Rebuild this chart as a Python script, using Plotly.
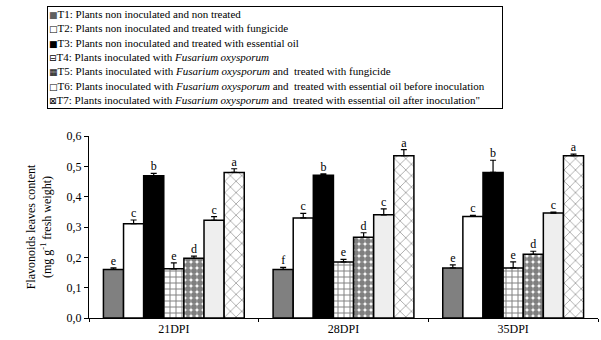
import plotly.graph_objects as go

categories = ["21DPI", "28DPI", "35DPI"]
treatments = ["T1", "T2", "T3", "T4", "T5", "T6", "T7"]
legend_texts = [
    "T1: Plants non inoculated and non treated",
    "T2: Plants non inoculated and treated with fungicide",
    "T3: Plants non inoculated and treated with essential oil",
    "T4: Plants inoculated with <i>Fusarium oxysporum</i>",
    "T5: Plants inoculated with <i>Fusarium oxysporum</i> and  treated with fungicide",
    "T6: Plants inoculated with <i>Fusarium oxysporum</i> and  treated with essential oil before inoculation",
    "T7: Plants inoculated with <i>Fusarium oxysporum</i> and  treated with essential oil after inoculation\"",
]
values = {
    "T1": [0.160, 0.160, 0.165],
    "T2": [0.311, 0.330, 0.335],
    "T3": [0.469, 0.471, 0.480],
    "T4": [0.162, 0.185, 0.165],
    "T5": [0.197, 0.266, 0.210],
    "T6": [0.322, 0.340, 0.346],
    "T7": [0.480, 0.535, 0.535],
}
errors = {
    "T1": [0.005, 0.007, 0.010],
    "T2": [0.012, 0.015, 0.003],
    "T3": [0.008, 0.004, 0.040],
    "T4": [0.020, 0.008, 0.020],
    "T5": [0.007, 0.015, 0.010],
    "T6": [0.012, 0.020, 0.003],
    "T7": [0.012, 0.020, 0.005],
}
letters = {
    "T1": ["e", "f", "e"],
    "T2": ["c", "c", "c"],
    "T3": ["b", "b", "b"],
    "T4": ["e", "e", "e"],
    "T5": ["d", "d", "d"],
    "T6": ["c", "c", "c"],
    "T7": ["a", "a", "a"],
}

styles = {
    "T1": dict(color="#808080", pattern=dict(shape="")),
    "T2": dict(color="#ffffff", pattern=dict(shape="")),
    "T3": dict(color="#000000", pattern=dict(shape="")),
    "T4": dict(color="#ffffff", pattern=dict(shape="+", bgcolor="#ffffff", fgcolor="#000000", size=6, solidity=0.3)),
    "T5": dict(color="#ffffff", pattern=dict(shape=".", bgcolor="#ffffff", fgcolor="#000000", size=6, solidity=0.75)),
    "T6": dict(color="#eeeeee", pattern=dict(shape="")),
    "T7": dict(color="#ffffff", pattern=dict(shape="x", bgcolor="#ffffff", fgcolor="#000000", size=8, solidity=0.15)),
}

SERIF = "Liberation Serif, Times New Roman, serif"

fig = go.Figure()
for t in treatments:
    st = styles[t]
    fig.add_trace(go.Bar(
        x=categories, y=values[t], name=t, offsetgroup=t,
        marker=dict(color=st["color"], pattern=st["pattern"],
                    line=dict(color="#000000", width=1.5)),
        error_y=dict(type="data", array=errors[t], arrayminus=[0] * 3,
                     symmetric=False, color="#000000", thickness=1.2, width=3),
        showlegend=False,
    ))
for t in treatments:
    fig.add_trace(go.Scatter(
        x=categories, y=[v + e for v, e in zip(values[t], errors[t])],
        offsetgroup=t, mode="text", text=letters[t], textposition="top center",
        textfont=dict(family=SERIF, size=12, color="#000000"),
        showlegend=False, hoverinfo="skip",
    ))

symbols = [
    '<span style="color:#606060">■</span>',
    '□', '■', '⊟', '▦', '□', '⊠',
]
legend_html = "<br>".join(
    f'<span style="font-family:DejaVu Sans;font-size:9px">{s}</span>{txt}'
    for s, txt in zip(symbols, legend_texts)
)
fig.add_annotation(
    xref="paper", yref="paper", x=-0.083, y=1.712, xanchor="left", yanchor="top",
    text=legend_html, showarrow=False, align="left", valign="top", width=452, height=99,
    bordercolor="#000000", borderwidth=1, borderpad=1, bgcolor="#ffffff",
    font=dict(family=SERIF, size=11, color="#000000"),
)

fig.update_layout(
    width=601, height=340,
    margin=dict(l=89, r=3, t=136, b=22),
    paper_bgcolor="#ffffff", plot_bgcolor="#ffffff",
    barmode="group", bargap=0.17, bargroupgap=0, scattermode="group", scattergap=0.17,
    separators=", ",
    font=dict(family=SERIF, size=12, color="#000000"),
    xaxis=dict(type="category", showline=True, linecolor="#000000", linewidth=1,
               ticks="outside", tickson="boundaries", ticklen=3, tickcolor="#000000",
               showgrid=False, tickfont=dict(family=SERIF, size=12)),
    yaxis=dict(range=[0, 0.6], dtick=0.1, tickformat=".1f", showline=True,
               linecolor="#000000", linewidth=1, ticks="outside", ticklen=4,
               tickcolor="#000000", showgrid=False, zeroline=False,
               tickfont=dict(family=SERIF, size=12),
               title=dict(text="Flavonoids leaves content<br>(mg g<sup>-1</sup> fresh weight)",
                          font=dict(family=SERIF, size=12), standoff=12)),
)

fig.write_html("out.html")
